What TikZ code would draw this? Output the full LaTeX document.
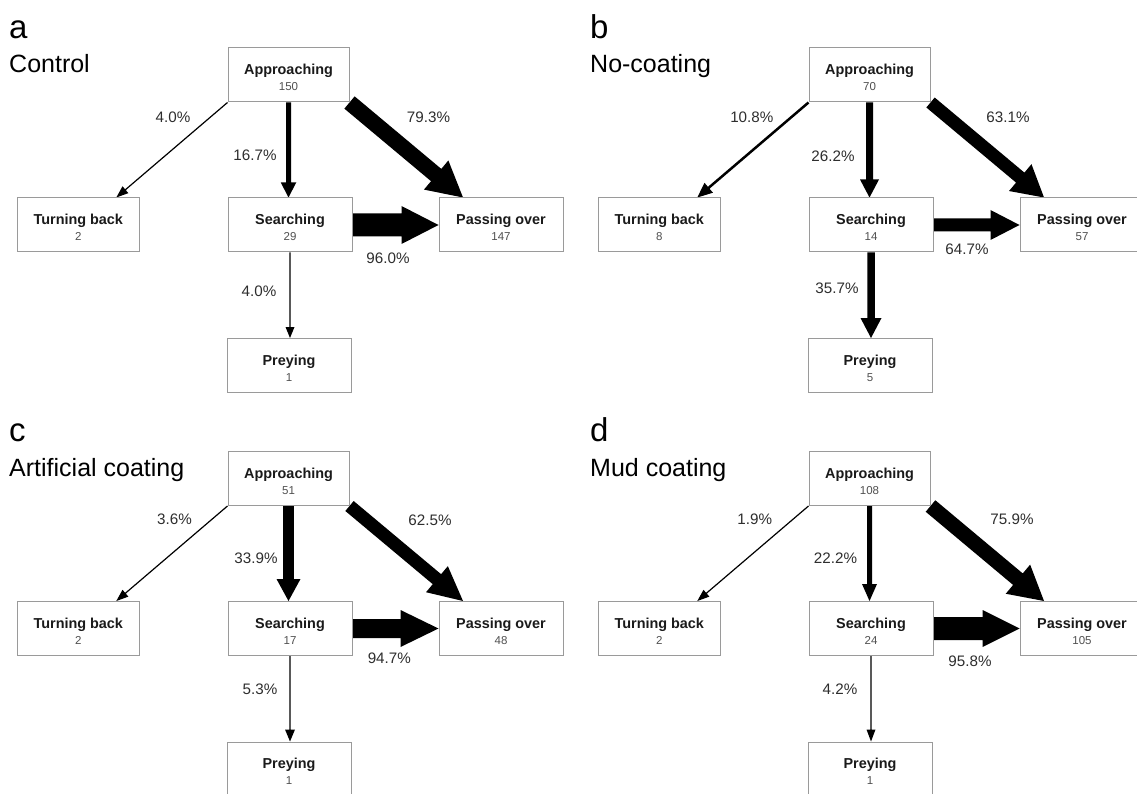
\documentclass[tikz,border=0pt]{standalone}
\usepackage{fontspec}
\setmainfont{Liberation Sans}
\usetikzlibrary{calc}
\pgfdeclarelayer{bg}
\pgfsetlayers{bg,main}
\definecolor{boxline}{HTML}{9A9A9A}
\definecolor{numgray}{HTML}{505050}
\definecolor{pctgray}{HTML}{2E2E2E}
\definecolor{ttlgray}{HTML}{1A1A1A}
\tikzset{
  sbox/.style={draw=boxline, line width=1pt, fill=white, minimum height=54pt, inner sep=0pt},
  stitle/.style={anchor=base, inner sep=0pt, text=ttlgray, font=\fontsize{14.4}{16}\selectfont\bfseries},
  snum/.style={anchor=base, inner sep=0pt, text=numgray, font=\fontsize{11.5}{13}\selectfont},
  pct/.style={inner sep=0pt, text=pctgray, font=\fontsize{15.2}{17}\selectfont},
  plet/.style={anchor=base west, inner sep=0pt, text=black, font=\fontsize{33}{36}\selectfont},
  ptitle/.style={anchor=base west, inner sep=0pt, text=black, font=\fontsize{25}{28}\selectfont},
  flowfill/.style={fill=black},
}
% box with title and count
\newcommand\statebox[6]{%
  \node[sbox, minimum width=#4] (#1) at (#2,#3) {};
  \node[stitle] (#1-t) at ([yshift=0.5pt]#1.center) {#5};
  \node[snum] (#1-n) at ([yshift=-15.6pt]#1.center) {#6};}
% flow arrow: from, to, half shaft width, half head width, head length
\newcommand\flow[5]{%
  \begin{pgfonlayer}{bg}
  \path ($(#2)!#5!(#1)$) coordinate (fh);
  \fill[flowfill] ($(#1)!#3!90:(#2)$) -- ($(fh)!#3!90:(#2)$) -- ($(fh)!#4!90:(#2)$) -- (#2)
     -- ($(fh)!#4!-90:(#2)$) -- ($(fh)!#3!-90:(#2)$) -- ($(#1)!#3!-90:(#2)$) -- cycle;
  \end{pgfonlayer}}
\newcommand\panellayout[5]{%
  \statebox{ap}{288.5}{75}{121pt}{Approaching}{#1}
  \statebox{tb}{78.3}{225}{122pt}{Turning back}{#2}
  \statebox{se}{290}{225}{124pt}{Searching}{#3}
  \statebox{po}{501}{225}{124pt}{Passing over}{#4}
  \statebox{pr}{289}{365.5}{124pt}{Preying}{#5}
  \coordinate (tbe) at ([xshift=38pt]tb.north);
  \coordinate (poe) at ([xshift=-38pt]po.north);
  \coordinate (sed) at (ap.south |- se.north);
  \coordinate (prd) at (se.south |- pr.north);}

\begin{document}
\begin{tikzpicture}[x=1pt,y=-1pt]
\useasboundingbox (0,0) rectangle (1137,794);
\begin{pgfonlayer}{bg}
  \fill[white] (0,0) rectangle (1137,794);
\end{pgfonlayer}
\clip (0,0) rectangle (1137,794);

% ---------- panel a ----------
\begin{scope}[name prefix=a-]
  \panellayout{150}{2}{29}{147}{1}
  \flow{ap.south west}{tbe}{0.6pt}{4.5pt}{12pt}
  \flow{ap.south}{sed}{2.5pt}{7.75pt}{15pt}
  \flow{ap.south east}{poe}{8pt}{19pt}{35pt}
  \flow{se.east}{po.west}{11.5pt}{19pt}{37pt}
  \flow{se.south}{prd}{0.6pt}{4.5pt}{11pt}
  \node[plet] (let) at (9,38.4) {a};
  \node[ptitle] (ttl) at (9,72.5) {Control};
  \node[pct] (p1) at (173,117.3) {4.0\%};
  \node[pct] (p2) at (428.5,117.3) {79.3\%};
  \node[pct] (p3) at (255,155.7) {16.7\%};
  \node[pct] (p4) at (388,258) {96.0\%};
  \node[pct] (p5) at (259,291) {4.0\%};
\end{scope}

% ---------- panel b ----------
\begin{scope}[shift={(581,0)}, name prefix=b-]
  \panellayout{70}{8}{14}{57}{5}
  \flow{ap.south west}{tbe}{1.25pt}{6.5pt}{15pt}
  \flow{ap.south}{sed}{3.5pt}{9.5pt}{18pt}
  \flow{ap.south east}{poe}{6.5pt}{17.5pt}{31pt}
  \flow{se.east}{po.west}{6.5pt}{15pt}{29pt}
  \flow{se.south}{prd}{3.75pt}{10.5pt}{20pt}
  \node[plet] (let) at (9,38.4) {b};
  \node[ptitle] (ttl) at (9,72.5) {No-coating};
  \node[pct] (p1) at (170.8,117) {10.8\%};
  \node[pct] (p2) at (427,117.7) {63.1\%};
  \node[pct] (p3) at (252,156) {26.2\%};
  \node[pct] (p4) at (386,249) {64.7\%};
  \node[pct] (p5) at (256,288) {35.7\%};
\end{scope}

% ---------- panel c ----------
\begin{scope}[shift={(0,403.5)}, name prefix=c-]
  \panellayout{51}{2}{17}{48}{1}
  \flow{ap.south west}{tbe}{0.6pt}{4.5pt}{12pt}
  \flow{ap.south}{sed}{5.3pt}{12pt}{22pt}
  \flow{ap.south east}{poe}{6.5pt}{17pt}{34pt}
  \flow{se.east}{po.west}{9.5pt}{18.5pt}{38pt}
  \flow{se.south}{prd}{0.7pt}{5pt}{12pt}
  \node[plet] (let) at (9,38.4) {c};
  \node[ptitle] (ttl) at (9,72.5) {Artificial coating};
  \node[pct] (p1) at (174.5,116) {3.6\%};
  \node[pct] (p2) at (430,116.5) {62.5\%};
  \node[pct] (p3) at (256,155) {33.9\%};
  \node[pct] (p4) at (389.3,255) {94.7\%};
  \node[pct] (p5) at (260,286) {5.3\%};
\end{scope}

% ---------- panel d ----------
\begin{scope}[shift={(581,403.5)}, name prefix=d-]
  \panellayout{108}{2}{24}{105}{1}
  \flow{ap.south west}{tbe}{0.6pt}{4.5pt}{12pt}
  \flow{ap.south}{sed}{2.5pt}{7.5pt}{17pt}
  \flow{ap.south east}{poe}{7.5pt}{19pt}{34pt}
  \flow{se.east}{po.west}{11.5pt}{18.5pt}{37pt}
  \flow{se.south}{prd}{0.6pt}{4.5pt}{12pt}
  \node[plet] (let) at (9,38.4) {d};
  \node[ptitle] (ttl) at (9,72.5) {Mud coating};
  \node[pct] (p1) at (173.7,115.5) {1.9\%};
  \node[pct] (p2) at (431,115.5) {75.9\%};
  \node[pct] (p3) at (254.5,154.5) {22.2\%};
  \node[pct] (p4) at (389,257.5) {95.8\%};
  \node[pct] (p5) at (259,285.5) {4.2\%};
\end{scope}
\end{tikzpicture}
\end{document}
